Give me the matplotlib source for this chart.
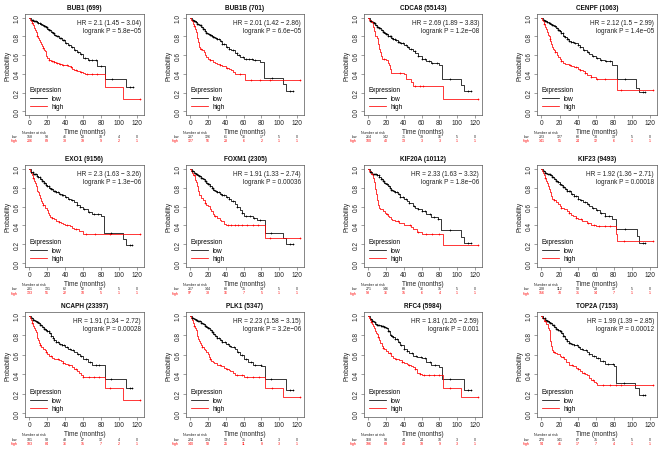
import numpy as np
import matplotlib
matplotlib.use("Agg")
import matplotlib.pyplot as plt
from matplotlib.lines import Line2D
from matplotlib import transforms

# ---------------- data ----------------
genes = ["BUB1 (699)", "BUB1B (701)", "CDCA8 (55143)", "CENPF (1063)",
         "EXO1 (9156)", "FOXM1 (2305)", "KIF20A (10112)", "KIF23 (9493)",
         "NCAPH (23397)", "PLK1 (5347)", "RFC4 (5984)", "TOP2A (7153)"]
hr_text = ["HR = 2.1 (1.45 \u2212 3.04)", "HR = 2.01 (1.42 \u2212 2.86)", "HR = 2.69 (1.89 \u2212 3.83)",
           "HR = 2.12 (1.5 \u2212 2.99)", "HR = 2.3 (1.63 \u2212 3.26)", "HR = 1.91 (1.33 \u2212 2.74)",
           "HR = 2.33 (1.63 \u2212 3.32)", "HR = 1.92 (1.36 \u2212 2.71)", "HR = 1.91 (1.34 \u2212 2.72)",
           "HR = 2.23 (1.58 \u2212 3.15)", "HR = 1.81 (1.26 \u2212 2.59)", "HR = 1.99 (1.39 \u2212 2.85)"]
p_text = ["logrank P = 5.8e\u221205", "logrank P = 6.6e\u221205", "logrank P = 1.2e\u221208",
          "logrank P = 1.4e\u221205", "logrank P = 1.3e\u221206", "logrank P = 0.00036",
          "logrank P = 1.8e\u221206", "logrank P = 0.00018", "logrank P = 0.00028",
          "logrank P = 3.2e\u221206", "logrank P = 0.001", "logrank P = 0.00012"]
risk_times = [0, 20, 40, 60, 80, 100, 120]
risk_low = [[158, 93, 46, 23, 10, 4, 0], [237, 126, 61, 36, 17, 5, 0], [264, 142, 71, 39, 16, 5, 0],
            [223, 127, 60, 30, 13, 5, 0], [231, 131, 62, 32, 14, 5, 0], [267, 144, 68, 35, 14, 5, 0],
            [271, 146, 69, 36, 15, 5, 0], [208, 112, 53, 28, 12, 5, 0], [181, 98, 48, 27, 12, 4, 0],
            [224, 124, 59, 31, 11, 3, 0], [168, 93, 44, 24, 10, 3, 0], [270, 141, 67, 35, 15, 5, 0]]
risk_high = [[206, 89, 38, 19, 9, 2, 1], [127, 56, 23, 6, 2, 1, 1], [100, 40, 13, 3, 3, 1, 1],
             [141, 55, 24, 12, 6, 1, 1], [133, 51, 22, 10, 5, 1, 1], [97, 38, 16, 7, 5, 1, 1],
             [93, 36, 15, 6, 4, 1, 1], [156, 70, 31, 14, 7, 1, 1], [183, 84, 36, 15, 7, 2, 1],
             [140, 58, 25, 11, 8, 3, 1], [196, 89, 40, 18, 9, 3, 1], [94, 41, 17, 7, 4, 1, 1]]

# Kaplan-Meier step points (time in months, survival after the step)
BUB1_low = [(0, 1), (2, .98), (4, .97), (6, .96), (8, .95), (10, .94), (12, .93), (14, .92), (16, .91), (18, .90),
            (20, .88), (22, .87), (24, .85), (26, .84), (28, .82), (30, .80), (33, .78), (36, .76), (40, .73),
            (43, .71), (46, .69), (50, .65), (53, .63), (56, .61), (60, .57), (65, .55), (76, .48), (84, .35),
            (108, .26), (116, .26)]
BUB1_high = [(0, 1), (1, .98), (2, .96), (3, .94), (4, .92), (5, .89), (6, .87), (7, .85), (8, .83), (9, .80),
             (10, .78), (11, .76), (12, .74), (13, .72), (14, .70), (15, .68), (16, .66), (17, .64), (18, .61),
             (19, .59), (20, .57), (22, .55), (24, .54), (27, .53), (30, .52), (33, .51), (36, .50), (40, .49),
             (43, .48), (46, .47), (48, .45), (50, .44), (53, .43), (56, .42), (60, .41), (62, .40), (84, .26),
             (104, .13), (123, .13)]
BUB1B_low = [(0, 1), (2, .98), (4, .96), (6, .95), (8, .93), (10, .92), (12, .90), (14, .88), (16, .86), (18, .84),
             (20, .83), (22, .82), (24, .80), (26, .79), (28, .78), (30, .77), (33, .75), (36, .72), (40, .69),
             (43, .67), (46, .65), (50, .62), (53, .60), (56, .58), (60, .56), (65, .555), (70, .55), (78, .53),
             (83, .36), (104, .29), (108, .22), (115, .22)]
BUB1B_high = [(0, 1), (1, .98), (2, .96), (3, .93), (4, .91), (5, .88), (6, .85), (7, .81), (8, .78), (9, .74),
              (10, .69), (11, .67), (13, .65), (15, .63), (17, .60), (18, .58), (20, .56), (22, .55), (25, .53),
              (28, .52), (30, .51), (33, .49), (36, .48), (40, .46), (43, .45), (46, .44), (48, .42), (50, .40),
              (61, .33), (123, .33)]
CDCA8_low = [(0, 1), (2, .97), (4, .95), (6, .94), (8, .92), (10, .90), (12, .89), (14, .87), (16, .85), (18, .84),
             (20, .83), (22, .81), (24, .80), (26, .78), (28, .77), (30, .76), (33, .74), (36, .73), (40, .71),
             (43, .69), (46, .67), (50, .64), (53, .62), (56, .59), (60, .56), (65, .54), (70, .52), (80, .49),
             (83, .35), (104, .28), (108, .22), (115, .22)]
CDCA8_high = [(0, 1), (1, .98), (3, .95), (5, .90), (6, .86), (8, .81), (10, .78), (11, .72), (12, .67), (13, .63),
              (14, .59), (15, .56), (20, .55), (22, .52), (23, .49), (24, .45), (25, .41), (40, .40), (42, .35),
              (48, .31), (50, .27), (84, .13), (123, .13)]
CENPF_low = [(0, 1), (2, .98), (4, .96), (6, .95), (8, .94), (10, .93), (12, .92), (14, .91), (16, .89), (18, .87),
             (20, .86), (22, .84), (24, .81), (26, .79), (28, .77), (30, .75), (33, .74), (36, .73), (40, .71),
             (43, .69), (46, .66), (50, .63), (53, .61), (56, .59), (60, .57), (65, .55), (70, .54), (78, .49),
             (84, .35), (105, .25), (108, .21), (115, .21)]
CENPF_high = [(0, 1), (1, .98), (2, .96), (3, .93), (4, .90), (5, .88), (6, .85), (7, .82), (8, .80), (9, .77),
              (10, .75), (11, .72), (12, .69), (13, .67), (14, .65), (15, .63), (17, .60), (18, .58), (20, .56),
              (22, .54), (24, .52), (26, .51), (30, .50), (33, .48), (36, .47), (40, .45), (43, .44), (46, .43),
              (48, .41), (50, .39), (55, .37), (60, .35), (84, .23), (123, .23)]
EXO1_low = [(0, 1), (2, .97), (4, .95), (6, .94), (8, .92), (10, .91), (12, .89), (14, .87), (16, .85), (18, .83),
            (20, .82), (22, .80), (24, .79), (26, .77), (28, .76), (30, .75), (33, .73), (36, .72), (40, .70),
            (43, .68), (46, .67), (50, .65), (53, .62), (56, .60), (60, .57), (65, .54), (70, .52), (80, .50),
            (83, .32), (104, .26), (108, .19), (115, .19)]
EXO1_high = [(0, 1), (1, .98), (2, .96), (3, .93), (4, .90), (5, .87), (6, .85), (7, .82), (8, .80), (9, .77),
             (10, .75), (11, .72), (12, .69), (13, .66), (14, .64), (15, .62), (17, .59), (18, .58), (20, .56),
             (21, .53), (22, .51), (23, .49), (25, .48), (27, .47), (30, .45), (33, .44), (35, .43), (38, .42),
             (40, .41), (45, .39), (48, .37), (50, .36), (55, .34), (60, .31), (123, .31)]
FOXM1_low = [(0, 1), (2, .98), (4, .96), (6, .95), (8, .93), (10, .92), (12, .90), (14, .89), (16, .87), (18, .85),
             (20, .84), (22, .82), (24, .80), (26, .78), (28, .76), (30, .75), (33, .73), (36, .72), (40, .70),
             (43, .68), (46, .66), (50, .63), (53, .60), (56, .56), (58, .53), (60, .50), (70, .48), (75, .46),
             (84, .32), (104, .27), (108, .20), (115, .20)]
FOXM1_high = [(0, 1), (1, .98), (2, .96), (3, .93), (5, .88), (6, .86), (7, .84), (8, .82), (9, .77), (10, .72),
              (12, .69), (14, .67), (16, .64), (18, .62), (20, .61), (22, .57), (23, .55), (25, .52), (27, .50),
              (30, .48), (33, .46), (35, .45), (38, .42), (40, .40), (84, .27), (123, .27)]
KIF20A_low = [(0, 1), (2, .97), (4, .95), (6, .94), (8, .94), (10, .93), (12, .91), (14, .89), (16, .87), (18, .85),
              (20, .84), (22, .82), (24, .80), (26, .78), (28, .76), (30, .75), (33, .73), (36, .70), (40, .68),
              (43, .66), (46, .64), (50, .61), (53, .59), (56, .57), (60, .55), (65, .52), (70, .49), (78, .47),
              (82, .35), (104, .28), (108, .21), (115, .21)]
KIF20A_high = [(0, 1), (1, .98), (3, .95), (5, .90), (6, .86), (7, .83), (8, .79), (9, .73), (10, .67), (11, .62),
               (12, .59), (13, .57), (17, .55), (19, .53), (20, .52), (22, .50), (23, .49), (25, .47), (27, .46),
               (30, .45), (35, .43), (40, .41), (45, .40), (48, .38), (50, .36), (55, .33), (60, .31), (84, .19),
               (123, .19)]
KIF23_low = [(0, 1), (2, .98), (4, .96), (6, .95), (8, .94), (10, .93), (12, .91), (14, .89), (16, .87), (18, .86),
             (20, .84), (22, .83), (24, .81), (26, .79), (28, .77), (30, .76), (33, .73), (36, .71), (40, .68),
             (43, .67), (46, .65), (50, .63), (53, .61), (56, .59), (60, .56), (65, .53), (70, .50), (78, .47),
             (83, .36), (106, .29), (108, .21), (115, .21)]
KIF23_high = [(0, 1), (1, .98), (2, .96), (3, .93), (4, .90), (5, .87), (6, .85), (7, .82), (8, .79), (9, .77),
              (10, .75), (11, .71), (12, .68), (14, .67), (16, .65), (18, .63), (20, .61), (22, .59), (25, .57),
              (28, .55), (30, .53), (33, .51), (35, .50), (38, .48), (40, .47), (45, .45), (50, .43), (55, .41),
              (60, .39), (82, .31), (84, .24), (123, .24)]
NCAPH_low = [(0, 1), (2, .98), (4, .96), (6, .95), (8, .94), (10, .93), (12, .91), (14, .89), (16, .87), (18, .85),
             (20, .84), (22, .82), (24, .79), (26, .77), (28, .75), (30, .73), (33, .71), (36, .70), (40, .68),
             (43, .66), (46, .65), (50, .63), (53, .61), (56, .59), (60, .56), (65, .53), (70, .50), (84, .35),
             (108, .26), (115, .26)]
NCAPH_high = [(0, 1), (1, .98), (2, .96), (3, .93), (4, .90), (5, .88), (6, .85), (7, .83), (8, .80), (9, .77),
              (10, .75), (11, .72), (12, .70), (13, .68), (15, .66), (17, .65), (18, .63), (20, .61), (22, .59),
              (25, .57), (28, .56), (33, .55), (35, .54), (38, .52), (40, .51), (43, .50), (45, .49), (48, .47),
              (50, .45), (53, .43), (55, .41), (58, .39), (60, .37), (84, .26), (104, .13), (123, .13)]
PLK1_low = [(0, 1), (2, .98), (4, .97), (6, .96), (8, .95), (12, .93), (14, .92), (16, .90), (18, .89), (20, .88),
            (22, .86), (24, .83), (26, .81), (28, .79), (30, .77), (33, .75), (36, .73), (40, .71), (43, .69),
            (46, .68), (50, .66), (53, .63), (56, .60), (60, .56), (65, .53), (70, .50), (80, .48), (84, .35),
            (108, .24), (115, .24)]
PLK1_high = [(0, 1), (1, .98), (2, .96), (3, .93), (4, .90), (5, .88), (6, .85), (7, .82), (8, .79), (9, .76),
             (10, .74), (11, .72), (12, .70), (13, .68), (15, .66), (17, .65), (18, .63), (20, .61), (21, .58),
             (22, .56), (23, .54), (25, .53), (27, .52), (30, .50), (33, .49), (35, .48), (38, .46), (40, .45),
             (43, .44), (45, .43), (48, .41), (50, .39), (60, .37), (84, .26), (104, .17), (123, .17)]
RFC4_low = [(0, 1), (2, .97), (4, .95), (6, .94), (8, .92), (10, .91), (14, .90), (18, .89), (20, .88), (22, .84),
            (24, .80), (26, .79), (28, .78), (30, .76), (33, .73), (36, .70), (40, .66), (43, .64), (46, .62),
            (50, .59), (55, .58), (60, .57), (65, .53), (70, .50), (80, .47), (83, .35), (108, .24), (115, .24)]
RFC4_high = [(0, 1), (1, .98), (2, .96), (3, .94), (4, .92), (5, .90), (6, .88), (7, .86), (8, .84), (9, .82),
             (10, .81), (11, .78), (12, .75), (13, .72), (15, .69), (17, .67), (18, .66), (20, .64), (22, .62),
             (25, .59), (28, .57), (30, .56), (33, .555), (35, .55), (38, .53), (40, .52), (43, .51), (45, .50),
             (48, .48), (50, .47), (52, .45), (55, .41), (58, .40), (60, .39), (84, .26), (104, .17), (123, .17)]
TOP2A_low = [(0, 1), (2, .98), (4, .96), (6, .95), (8, .94), (10, .93), (12, .91), (14, .89), (16, .87), (18, .85),
             (20, .84), (22, .82), (24, .79), (26, .76), (28, .74), (30, .72), (33, .71), (36, .70), (40, .68),
             (43, .66), (46, .65), (50, .63), (53, .61), (56, .59), (60, .57), (65, .54), (70, .51), (80, .48),
             (83, .31), (104, .26), (108, .19), (115, .19)]
TOP2A_high = [(0, 1), (1, .98), (3, .95), (5, .92), (7, .88), (8, .86), (9, .80), (10, .74), (11, .69), (12, .65),
              (13, .63), (15, .62), (17, .61), (20, .59), (22, .58), (25, .56), (27, .53), (30, .50), (33, .49),
              (35, .48), (38, .46), (40, .45), (43, .43), (45, .41), (48, .40), (50, .39), (53, .36), (55, .34),
              (58, .32), (60, .31), (62, .29), (123, .29)]

# censoring times ("+" marks)
BUB1_low_c = [2.5, 3.5, 5, 6.5, 7.5, 9, 10, 11.5, 12.5, 13.5, 15, 16, 17, 18.5, 19.5, 21, 22, 23.5, 25, 26,
              27.5, 29, 31, 32, 34, 35.5, 37, 39, 41, 44, 47, 51, 54, 58, 62, 66, 70, 74, 80, 92, 112, 116]
BUB1_high_c = [3, 9, 15, 22, 25, 28, 31, 34, 38, 42, 46, 52, 58, 64, 70, 76, 123]
BUB1B_low_c = [2.5, 4, 5.5, 6.5, 8, 9, 10.5, 11.5, 13, 14, 15.5, 16.5, 18, 19, 20.5, 22, 23, 24.5, 26, 27,
               28.5, 30, 32, 34, 36, 38, 41, 44, 48, 52, 55, 59, 63, 66, 69, 73, 92, 112, 115]
BUB1B_high_c = [4, 12, 22, 33, 41, 56, 68, 78, 90, 123]
CDCA8_low_c = [2, 3.5, 5, 6, 7.5, 8.5, 10, 11, 12.5, 13.5, 15, 16, 17.5, 18.5, 20, 21, 22.5, 24, 25, 26.5,
               28, 29.5, 31, 33, 35, 37, 39, 42, 45, 48, 52, 56, 60, 64, 68, 72, 77, 92, 112, 115]
CDCA8_high_c = [4, 18, 36, 52, 58, 62, 123]
CENPF_low_c = [2.5, 4, 5, 6.5, 8, 9, 10.5, 12, 13, 14.5, 15.5, 17, 18, 19.5, 21, 22, 23.5, 25, 26.5, 28,
               29.5, 31, 33, 35, 37, 40, 43, 47, 52, 57, 62, 66, 71, 76, 92, 112, 115]
CENPF_high_c = [3, 9, 15, 22, 32, 38, 43, 48, 55, 62, 70, 88, 123]
EXO1_low_c = [2, 3.5, 5, 6, 7.5, 9, 10, 11.5, 12.5, 14, 15, 16.5, 17.5, 19, 20, 21.5, 23, 24, 25.5, 27,
              28.5, 30, 32, 34, 36, 38, 41, 44, 48, 53, 57, 61, 66, 72, 77, 91, 112, 115]
EXO1_high_c = [4, 15, 25, 33, 42, 52, 63, 73, 90, 123]
FOXM1_low_c = [2, 3.5, 5, 6, 7.5, 8.5, 10, 11, 12.5, 13.5, 15, 16, 17.5, 18.5, 20, 21.5, 22.5, 24, 25.5, 27,
               28.5, 30, 32, 34, 36, 38, 41, 44, 48, 53, 58, 63, 67, 72, 78, 91, 112, 115]
FOXM1_high_c = [4, 16, 28, 42, 46, 50, 54, 58, 64, 70, 76, 90, 123]
KIF20A_low_c = [2, 3.5, 5, 6.5, 7.5, 9, 10, 11.5, 12.5, 14, 15, 16.5, 17.5, 19, 20.5, 21.5, 23, 24.5, 26, 27,
                28.5, 30, 32, 34, 36, 39, 42, 46, 51, 56, 60, 64, 69, 74, 78, 92, 112, 115]
KIF20A_high_c = [4, 21, 33, 47, 56, 65, 72, 79, 123]
KIF23_low_c = [2.5, 4, 5.5, 7, 8, 9.5, 10.5, 12, 13, 14.5, 16, 17, 18.5, 20, 21, 22.5, 24, 25.5, 27, 28.5,
               30, 32, 34, 36, 38, 41, 44, 48, 52, 57, 62, 66, 70, 75, 92, 112, 115]
KIF23_high_c = [4, 14, 22, 31, 38, 44, 52, 58, 64, 70, 76, 91, 123]
NCAPH_low_c = [2.5, 4, 5.5, 7, 8, 9.5, 11, 12, 13.5, 15, 16, 17.5, 19, 20, 21.5, 23, 24.5, 26, 28, 30,
               32, 34, 36, 39, 42, 45, 49, 54, 58, 63, 68, 74, 78, 91, 112, 115]
NCAPH_high_c = [3, 12, 18, 24, 32, 38, 44, 52, 60, 66, 72, 78, 90, 123]
PLK1_low_c = [2, 3.5, 5, 6, 7.5, 8.5, 10, 11, 12.5, 13.5, 15, 16.5, 17.5, 19, 20, 21.5, 23, 24, 25.5, 27,
              28.5, 30, 32, 34, 36, 39, 42, 45, 49, 54, 58, 63, 68, 73, 79, 91, 112, 115]
PLK1_high_c = [4, 13, 22, 33, 41, 52, 58, 64, 70, 77, 92, 123]
RFC4_low_c = [2.5, 4, 5.5, 7, 8.5, 10, 11, 12.5, 14, 15, 16.5, 18, 19, 20.5, 22, 23.5, 25, 26.5, 28, 30,
              32, 34, 37, 40, 44, 49, 54, 59, 64, 69, 75, 92, 112, 115]
RFC4_high_c = [3, 11, 17, 24, 31, 38, 46, 52, 58, 63, 68, 74, 80, 92, 123]
TOP2A_low_c = [2, 3.5, 5, 6, 7.5, 8.5, 10, 11, 12.5, 13.5, 15, 16, 17.5, 18.5, 20, 21.5, 22.5, 24, 25.5, 27,
               28.5, 30, 32, 34, 36, 39, 42, 45, 49, 53, 58, 63, 68, 74, 79, 91, 112, 115]
TOP2A_high_c = [4, 14, 24, 34, 40, 47, 57, 68, 76, 83, 88, 123]

curves = [
    (BUB1_low, BUB1_low_c, BUB1_high, BUB1_high_c),
    (BUB1B_low, BUB1B_low_c, BUB1B_high, BUB1B_high_c),
    (CDCA8_low, CDCA8_low_c, CDCA8_high, CDCA8_high_c),
    (CENPF_low, CENPF_low_c, CENPF_high, CENPF_high_c),
    (EXO1_low, EXO1_low_c, EXO1_high, EXO1_high_c),
    (FOXM1_low, FOXM1_low_c, FOXM1_high, FOXM1_high_c),
    (KIF20A_low, KIF20A_low_c, KIF20A_high, KIF20A_high_c),
    (KIF23_low, KIF23_low_c, KIF23_high, KIF23_high_c),
    (NCAPH_low, NCAPH_low_c, NCAPH_high, NCAPH_high_c),
    (PLK1_low, PLK1_low_c, PLK1_high, PLK1_high_c),
    (RFC4_low, RFC4_low_c, RFC4_high, RFC4_high_c),
    (TOP2A_low, TOP2A_low_c, TOP2A_high, TOP2A_high_c),
]

# ---------------- layout ----------------
W, H = 668, 452
fig = plt.figure(figsize=(W / 100, H / 100), dpi=100)
fig.patch.set_facecolor("white")
plt.rcParams["font.family"] = ["Liberation Sans", "DejaVu Sans"]

col_px = [(25, 144), (186, 304), (364, 482), (537, 657)]
row_px = [(15, 116), (166, 268), (313, 418)]

RED = "#FF0000"
FS = 4.7


def km_xy(pairs):
    t = np.array([p[0] for p in pairs], float)
    s = np.array([p[1] for p in pairs], float)
    return t, s


def step_eval(t, s, c):
    idx = np.searchsorted(t, np.asarray(c, float), side="right") - 1
    return s[np.clip(idx, 0, len(s) - 1)]


for i, g in enumerate(genes):
    r, cidx = divmod(i, 4)
    x0, x1 = col_px[cidx]
    y0, y1 = row_px[r]
    ax = fig.add_axes([x0 / W, 1 - y1 / H, (x1 - x0) / W, (y1 - y0) / H])
    low, lc, high, hc = curves[i]
    lt, ls = km_xy(low)
    ht, hs = km_xy(high)
    ax.step(lt, ls, where="post", color="black", lw=0.55)
    ax.step(ht, hs, where="post", color=RED, lw=0.55)
    ax.plot(lc, step_eval(lt, ls, lc), ls="none", marker="+", ms=2.0, mew=0.45, color="black")
    ax.plot(hc, step_eval(ht, hs, hc), ls="none", marker="+", ms=2.0, mew=0.45, color=RED)

    ax.set_xlim(-4.9, 127.9)
    ax.set_ylim(-0.04, 1.04)
    ax.set_xticks([0, 20, 40, 60, 80, 100, 120])
    ax.set_yticks([0, 0.2, 0.4, 0.6, 0.8, 1.0])
    ax.set_yticklabels(["0.0", "0.2", "0.4", "0.6", "0.8", "1.0"])
    for sp in ax.spines.values():
        sp.set_color("#555555")
        sp.set_linewidth(0.5)
    ax.tick_params(length=2, width=0.4, pad=1, labelsize=FS, colors="#555555", labelcolor="#222222")
    ax.tick_params(axis="y", labelrotation=90)
    for lab in ax.get_yticklabels():
        lab.set_va("center")
    ax.set_title(g, fontsize=FS, fontweight="bold", pad=3.5, color="#111111")
    ax.set_ylabel("Probability", fontsize=FS, labelpad=1.5, color="#222222")
    ax.set_xlabel("Time (months)", fontsize=FS, labelpad=1, color="#222222")

    ax.text(0.975, 0.955, hr_text[i] + "\n" + p_text[i], transform=ax.transAxes,
            ha="right", va="top", fontsize=FS, linespacing=1.25, color="#222222")

    handles = [Line2D([], [], color="black", lw=0.55), Line2D([], [], color=RED, lw=0.55)]
    leg = ax.legend(handles, ["low", "high"], title="Expression", loc="lower left",
                    frameon=False, fontsize=FS, title_fontsize=FS, handlelength=2.6,
                    handletextpad=0.8, borderaxespad=0.3, labelspacing=0.25,
                    bbox_to_anchor=(0.0, 0.0))
    leg._legend_box.align = "left"

    trans = transforms.blended_transform_factory(ax.transData, ax.transAxes)
    ax.text(5, -0.165, "Number at risk", transform=trans, fontsize=2.6, ha="center",
            va="center", color="#222222")
    ax.text(-13, -0.205, "low", transform=trans, fontsize=2.6, ha="right", va="center", color="#222222")
    ax.text(-13, -0.25, "high", transform=trans, fontsize=2.6, ha="right", va="center", color=RED)
    for k, tt in enumerate(risk_times):
        ax.text(tt, -0.205, str(risk_low[i][k]), transform=trans, fontsize=2.6,
                ha="center", va="center", color="#222222")
        ax.text(tt, -0.25, str(risk_high[i][k]), transform=trans, fontsize=2.6,
                ha="center", va="center", color=RED)

fig.savefig("out.png", dpi=100, facecolor="white")
